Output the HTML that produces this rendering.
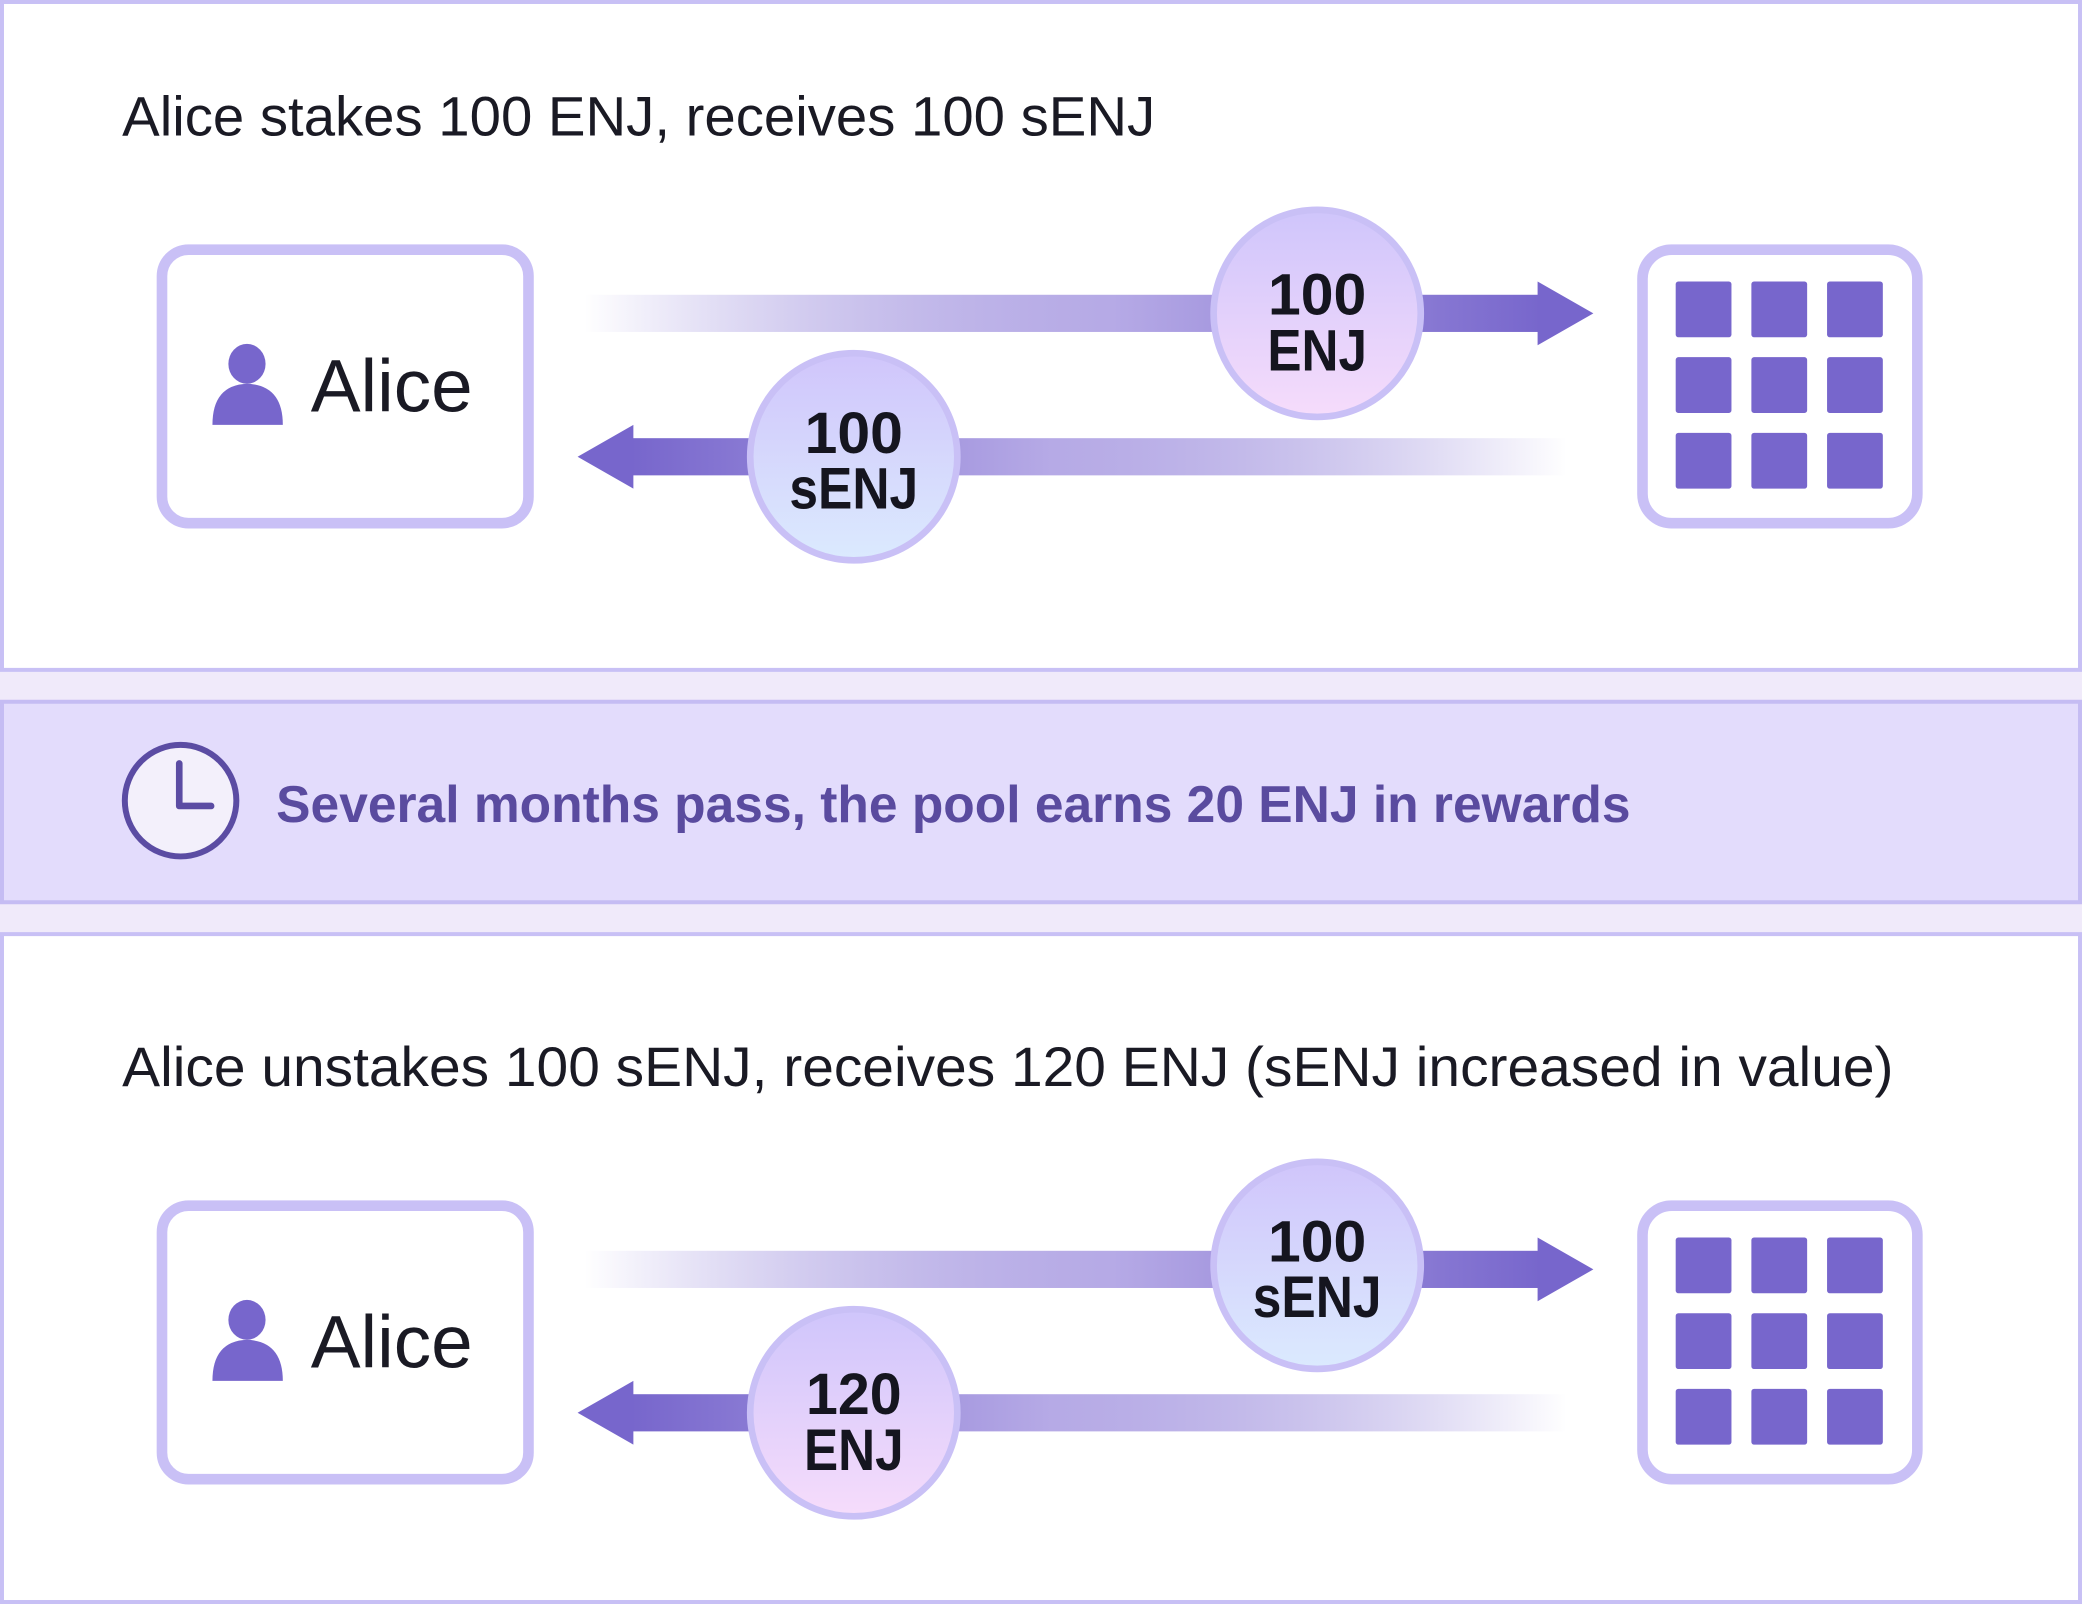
<!DOCTYPE html>
<html><head><meta charset="utf-8"><style>
html,body{margin:0;padding:0;background:#fff}
svg{display:block}
text{font-family:"Liberation Sans",sans-serif}
</style></head><body>
<svg width="2082" height="1604" viewBox="0 0 1568 1208" preserveAspectRatio="none" xmlns="http://www.w3.org/2000/svg">
<defs>
<linearGradient id="gr" x1="0" x2="1" y1="0" y2="0">
<stop offset="0" stop-color="#7a68d0" stop-opacity="0"/><stop offset="0.55" stop-color="#b6aae6"/><stop offset="1" stop-color="#7766cc"/></linearGradient>
<linearGradient id="gl" x1="0" x2="1" y1="0" y2="0">
<stop offset="0" stop-color="#7766cc"/><stop offset="0.45" stop-color="#b6aae6"/><stop offset="1" stop-color="#7a68d0" stop-opacity="0"/></linearGradient>
<linearGradient id="cp" x1="0" x2="0" y1="0" y2="1">
<stop offset="0" stop-color="#cfc5fb"/><stop offset="1" stop-color="#f6dcfb"/></linearGradient>
<linearGradient id="cb" x1="0" x2="0" y1="0" y2="1">
<stop offset="0" stop-color="#d0c5fb"/><stop offset="1" stop-color="#dbeafe"/></linearGradient>
<g id="grid" fill="#7766cc">
<rect x="1237" y="188" width="207" height="206" rx="22" fill="#fff" stroke="#c9c0f6" stroke-width="8"/>
<rect x="1262" y="212" width="42" height="42" rx="2"/><rect x="1319" y="212" width="42" height="42" rx="2"/><rect x="1376" y="212" width="42" height="42" rx="2"/>
<rect x="1262" y="269" width="42" height="42" rx="2"/><rect x="1319" y="269" width="42" height="42" rx="2"/><rect x="1376" y="269" width="42" height="42" rx="2"/>
<rect x="1262" y="326" width="42" height="42" rx="2"/><rect x="1319" y="326" width="42" height="42" rx="2"/><rect x="1376" y="326" width="42" height="42" rx="2"/>
</g>
<g id="alice">
<rect x="122" y="188" width="276" height="206" rx="20" fill="#fff" stroke="#c9c0f6" stroke-width="8"/>
<ellipse cx="186" cy="274" rx="14" ry="15" fill="#7766cc"/>
<path d="M160 320 Q160 290 186 289 Q213 290 213 320 Z" fill="#7766cc"/>
<text x="234" y="310" font-size="56" fill="#1a1a24" textLength="122" lengthAdjust="spacingAndGlyphs">Alice</text>
<rect x="440" y="222" width="722" height="28" fill="url(#gr)"/>
<path d="M1158 212 L1200 236 L1158 260 Z" fill="#7766cc"/>
<rect x="475" y="330" width="705" height="28" fill="url(#gl)"/>
<path d="M477 320 L435 344 L477 368 Z" fill="#7766cc"/>
</g>
</defs>
<rect x="0" y="0" width="1568" height="1208" fill="#f0eafa"/>
<rect x="1.5" y="1.5" width="1565" height="503" fill="#fff" stroke="#c8c0f5" stroke-width="3"/>
<rect x="1.5" y="528.5" width="1565" height="151" fill="#e3dcfc" stroke="#c5bcf3" stroke-width="3"/>
<rect x="1.5" y="703.5" width="1565" height="503" fill="#fff" stroke="#c8c0f5" stroke-width="3"/>

<text x="92" y="102" font-size="42" fill="#1a1a24" textLength="778" lengthAdjust="spacingAndGlyphs">Alice stakes 100 ENJ, receives 100 sENJ</text>
<use href="#alice"/>
<use href="#grid"/>
<circle cx="992" cy="236" r="78" fill="url(#cp)" stroke="#c9c0f6" stroke-width="5"/>
<text x="992" y="237" font-size="44" font-weight="bold" text-anchor="middle" fill="#15151f" textLength="74" lengthAdjust="spacingAndGlyphs">100</text>
<text x="992" y="279" font-size="44" font-weight="bold" text-anchor="middle" fill="#15151f" textLength="75" lengthAdjust="spacingAndGlyphs">ENJ</text>
<circle cx="643" cy="344" r="78" fill="url(#cb)" stroke="#c9c0f6" stroke-width="5"/>
<text x="643" y="341" font-size="44" font-weight="bold" text-anchor="middle" fill="#15151f" textLength="74" lengthAdjust="spacingAndGlyphs">100</text>
<text x="643" y="383" font-size="44" font-weight="bold" text-anchor="middle" fill="#15151f" textLength="97" lengthAdjust="spacingAndGlyphs">sENJ</text>

<circle cx="136" cy="603" r="42" fill="#f3f0fb" stroke="#5b4ca3" stroke-width="4.5"/>
<path d="M135 575 L135 607 L159 607" fill="none" stroke="#5b4ca3" stroke-width="5" stroke-linecap="round" stroke-linejoin="round"/>
<text x="208" y="619" font-size="39" font-weight="bold" fill="#5a4b9f" textLength="1020" lengthAdjust="spacingAndGlyphs">Several months pass, the pool earns 20 ENJ in rewards</text>

<text x="92" y="818" font-size="42" fill="#1a1a24" textLength="1334" lengthAdjust="spacingAndGlyphs">Alice unstakes 100 sENJ, receives 120 ENJ (sENJ increased in value)</text>
<g transform="translate(0,720)">
<use href="#alice"/>
<use href="#grid"/>
<circle cx="992" cy="233" r="78" fill="url(#cb)" stroke="#c9c0f6" stroke-width="5"/>
<text x="992" y="230" font-size="44" font-weight="bold" text-anchor="middle" fill="#15151f" textLength="74" lengthAdjust="spacingAndGlyphs">100</text>
<text x="992" y="272" font-size="44" font-weight="bold" text-anchor="middle" fill="#15151f" textLength="97" lengthAdjust="spacingAndGlyphs">sENJ</text>
<circle cx="643" cy="344" r="78" fill="url(#cp)" stroke="#c9c0f6" stroke-width="5"/>
<text x="643" y="345" font-size="44" font-weight="bold" text-anchor="middle" fill="#15151f" textLength="72" lengthAdjust="spacingAndGlyphs">120</text>
<text x="643" y="387" font-size="44" font-weight="bold" text-anchor="middle" fill="#15151f" textLength="75" lengthAdjust="spacingAndGlyphs">ENJ</text>
</g>
</svg>
</body></html>
